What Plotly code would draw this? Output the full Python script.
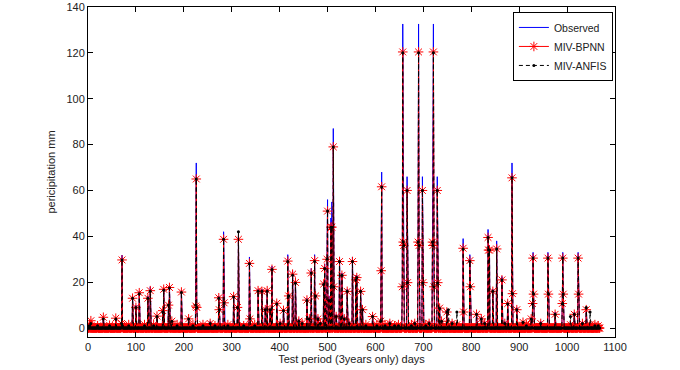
import plotly.graph_objects as go

N_DAYS = 1069

# event days (all other days are zero)
event_days = [3, 6, 20, 32, 45, 58, 70, 71, 72, 85, 93, 100, 107, 118, 125, 130, 137, 144, 156, 158,
              168, 170, 175, 186, 195, 210, 219, 225, 226, 227, 240, 255, 265, 273, 274, 283, 284, 292,
              304, 312, 314, 325, 337, 338, 348, 355, 363, 370, 374, 380, 384, 394, 401, 408, 417, 419,
              427, 433, 440, 447, 457, 462, 466, 473, 475, 480, 485, 492, 494, 499, 500, 503, 507, 509,
              512, 513, 518, 525, 530, 535, 541, 545, 552, 559, 561, 569, 573, 580, 594, 603, 611, 612,
              613, 620, 630, 640, 648, 656, 657, 658, 659, 666, 667, 675, 682, 689, 690, 691, 698, 699,
              705, 712, 719, 720, 721, 722, 729, 730, 734, 738, 749, 752, 760, 770, 783, 784, 797, 798,
              811, 821, 828, 835, 836, 838, 845, 853, 864, 870, 876, 885, 886, 895, 908, 915, 925, 928,
              929, 930, 945, 960, 961, 975, 990, 991, 992, 1007, 1015, 1023, 1024, 1032, 1040, 1048,
              1058, 1065]

observed = [2, 3.5, 1.5, 5, 1.5, 4.5, 3, 31.8, 2, 2, 14, 10, 16, 2, 14, 18, 2, 5.5, 8, 17.5,
            10.5, 18.5, 3.5, 2, 16.5, 4.5, 2, 28, 72, 10, 2, 3, 1.5, 14, 8.5, 42, 25, 2,
            14, 9.5, 40, 2, 31, 4.5, 2, 17, 17, 9, 17, 8.5, 27, 11.5, 3, 8.5, 32, 15,
            25, 21, 4, 3, 13, 5, 26, 32, 15, 5, 3, 20, 28, 35, 56, 14, 48, 55,
            87, 20, 6, 31, 24, 5, 17, 3, 31, 23, 23, 17, 9, 2, 6, 2, 4, 40,
            68, 2, 3, 1.5, 2, 20, 132.6, 83, 40, 66, 27, 2, 3, 42, 132.6, 40, 66, 27,
            2, 3, 40, 86, 132.6, 20, 66, 27, 9.5, 3.5, 8, 2, 3, 2, 39, 8, 32, 19,
            7, 5, 3, 43, 35, 36, 17, 38, 22.5, 3, 11.5, 72, 16, 9, 3, 2, 4.5, 11.5,
            33, 16, 3, 33, 16, 7, 11.5, 33, 16, 2, 7, 33, 16, 3, 8.5, 2,
            2, 1.5]

bpnn = [1.5, 3.2, 1, 4.7, 1.2, 4.3, 2, 29.7, 1.5, 1.5, 13, 9, 15.4, 1.5, 13, 16.3, 1.5, 5.2, 7.6, 16.9,
        10, 17.7, 3, 1.5, 15.7, 4, 1.5, 9.6, 65, 9, 1.5, 2, 1, 13.2, 8, 38.7, 11, 1.5,
        13.7, 9, 38.7, 1, 28.2, 4, 1.5, 16.3, 16, 8, 16.3, 8, 25.6, 10.8, 2, 7.7, 29.2, 14,
        23.5, 19.9, 3, 2, 12.2, 4, 24, 29.4, 14, 4, 2, 19.2, 26, 30, 51, 12, 44, 44,
        79, 18, 5, 29, 23, 4, 16, 2, 29, 21, 22, 16, 8, 1.5, 5, 1.5, 3, 25,
        61.6, 1.5, 2, 1, 1.5, 18, 120.4, 37.5, 36, 60, 19.8, 1.5, 2, 37.5, 120.4, 36, 60, 19.8,
        1.5, 2, 37.5, 36, 120.4, 18, 60, 19.8, 8.7, 3, 7, 1.5, 2, 1.5, 34.8, 7, 29.4, 18,
        6, 4, 2, 39.5, 34, 34, 16, 34.5, 21, 2, 10.7, 65.5, 15, 8, 2.5, 1.5, 4, 10.7,
        30.5, 14.8, 2, 30.5, 14.8, 6, 10.7, 30.5, 14.8, 1.5, 6, 30.5, 14.8, 2, 8, 1.5,
        1.5, 1]

anfis = [1, 2, 1, 4, 1, 4, 2, 29.7, 1, 1, 13, 9, 15, 1, 13, 16, 1, 5, 7, 16.5,
         10, 17.5, 3, 1, 15.5, 4, 1, 10, 65, 9, 1, 2, 1, 13, 8, 38.7, 11, 1,
         13.5, 9, 42, 1, 28, 4, 1, 16, 16, 8, 16, 8, 25.5, 10.5, 2, 7.5, 29, 14,
         23, 19.5, 3, 2, 12, 4, 24, 29, 14, 4, 2, 19, 26, 30, 51, 12, 44, 44,
         79, 18, 5, 29, 23, 4, 16, 2, 29, 21, 22, 16, 8, 1, 5, 1, 3, 25,
         61.5, 1, 2, 1, 1, 18, 120, 37.5, 36, 60, 19.8, 1, 2, 37.5, 120, 36, 60, 19.8,
         1, 2, 37.5, 36, 120, 18, 60, 19.8, 8.5, 3, 7, 8, 2, 7, 34.5, 7, 29, 18,
         6, 4, 2, 39.5, 34, 34, 16, 34.5, 21, 2, 10.5, 65.5, 15, 8, 2.5, 1, 4, 10.5,
         30.5, 14.8, 2, 30.5, 14.8, 6, 10.5, 30.5, 14.8, 5, 6, 30.5, 14.8, 2, 9, 7,
         1, 1]

x_ticks = [0, 100, 200, 300, 400, 500, 600, 700, 800, 900, 1000, 1100]
y_ticks = [0, 20, 40, 60, 80, 100, 120, 140]

days = list(range(N_DAYS))
obs_full = [0.0] * N_DAYS
bp_full = [0.0] * N_DAYS
an_full = [0.0] * N_DAYS
for d, o, b, a in zip(event_days, observed, bpnn, anfis):
    obs_full[d] = o
    bp_full[d] = b
    an_full[d] = a

fig = go.Figure()
fig.add_trace(go.Scatter(x=days, y=obs_full, mode="lines", name="Observed",
                         line=dict(color="rgb(0,0,255)", width=1)))
fig.add_trace(go.Scatter(x=days, y=bp_full, mode="lines+markers", name="MIV-BPNN",
                         line=dict(color="rgb(255,0,0)", width=1),
                         marker=dict(symbol="asterisk-open", size=8,
                                     color="rgb(255,0,0)",
                                     line=dict(color="rgb(255,0,0)", width=1))))
fig.add_trace(go.Scatter(x=days, y=an_full, mode="lines+markers", name="MIV-ANFIS",
                         line=dict(color="black", width=1, dash="4px,3px"),
                         marker=dict(symbol="circle", size=3, color="black")))

axis_common = dict(showline=True, linecolor="black", linewidth=1, mirror="ticks",
                   ticks="inside", ticklen=5, tickcolor="black", showgrid=False,
                   zeroline=False, automargin=False,
                   tickfont=dict(family="Arial", size=11, color="#222"))

fig.update_xaxes(range=[0, 1100], tickvals=x_ticks, ticktext=[str(v) for v in x_ticks],
                 title=dict(text="Test period (3years only) days", standoff=2,
                            font=dict(family="Arial", size=11, color="#222")),
                 **axis_common)
fig.update_yaxes(range=[-3.9, 140], tickvals=y_ticks, ticktext=[str(v) for v in y_ticks],
                 title=dict(text="pericipitation mm", standoff=8,
                            font=dict(family="Arial", size=11, color="#222")),
                 **axis_common)

fig.update_layout(
    width=680, height=370,
    margin=dict(l=88, r=65, t=7, b=33),
    plot_bgcolor="white", paper_bgcolor="white",
    showlegend=True,
    legend=dict(x=0.996, y=0.985, xanchor="right", yanchor="top",
                bgcolor="white", bordercolor="black", borderwidth=1,
                font=dict(family="Arial", size=10.5, color="#222"),
                tracegroupgap=0, itemwidth=30),
)

fig.write_html("out.html", config={"displayModeBar": False},
               post_script="document.body.style.margin='0';")
